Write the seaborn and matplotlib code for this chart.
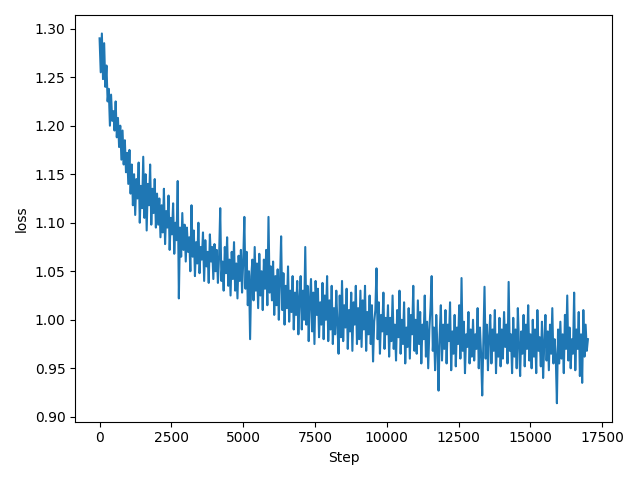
import pandas as pd
import seaborn as sns
from matplotlib import pyplot as plt

steps = list(range(0, 17001, 40))

loss_0k = [1.290, 1.255, 1.295, 1.248, 1.285, 1.240, 1.262, 1.225, 1.238, 1.200,
           1.232, 1.205, 1.215, 1.195, 1.225, 1.188, 1.208, 1.178, 1.200, 1.165,
           1.195, 1.160, 1.185, 1.152, 1.172]
loss_1k = [1.140, 1.175, 1.130, 1.160, 1.118, 1.150, 1.108, 1.145, 1.125, 1.162,
           1.100, 1.138, 1.115, 1.168, 1.105, 1.150, 1.092, 1.140, 1.118, 1.160,
           1.098, 1.135, 1.110, 1.145, 1.095]
loss_2k = [1.130, 1.098, 1.125, 1.085, 1.118, 1.090, 1.135, 1.078, 1.112, 1.095,
           1.128, 1.072, 1.105, 1.088, 1.120, 1.068, 1.100, 1.082, 1.143, 1.022,
           1.095, 1.065, 1.110, 1.072, 1.098]
loss_3k = [1.060, 1.095, 1.070, 1.085, 1.050, 1.118, 1.065, 1.092, 1.045, 1.080,
           1.058, 1.100, 1.048, 1.075, 1.062, 1.090, 1.040, 1.082, 1.055, 1.070,
           1.038, 1.088, 1.060, 1.075, 1.042]
loss_4k = [1.078, 1.050, 1.072, 1.038, 1.065, 1.115, 1.040, 1.060, 1.030, 1.075,
           1.048, 1.085, 1.035, 1.062, 1.025, 1.070, 1.042, 1.080, 1.030, 1.058,
           1.022, 1.066, 1.040, 1.072, 1.028]
loss_5k = [1.060, 1.106, 1.032, 1.070, 1.015, 1.050, 0.980, 1.045, 1.062, 1.020,
           1.075, 1.030, 1.058, 1.012, 1.068, 1.025, 1.050, 1.010, 1.062, 1.032,
           1.072, 1.015, 1.106, 1.028, 1.055]
loss_6k = [1.020, 1.060, 1.005, 1.045, 1.015, 1.052, 1.000, 1.040, 1.086, 1.010,
           1.048, 0.995, 1.035, 1.012, 1.055, 0.998, 1.030, 1.008, 1.045, 0.990,
           1.028, 1.005, 1.040, 0.985, 1.022]
loss_7k = [1.045, 0.990, 1.030, 1.000, 1.075, 0.995, 1.035, 0.978, 1.020, 1.042,
           0.988, 1.028, 0.975, 1.040, 1.005, 1.032, 0.982, 1.018, 0.995, 1.038,
           0.980, 1.025, 1.000, 1.045, 0.978]
loss_8k = [1.020, 0.990, 1.035, 0.975, 1.012, 0.985, 1.030, 0.995, 0.965, 1.025,
           0.982, 1.040, 0.978, 1.015, 0.992, 1.032, 0.970, 1.010, 0.988, 1.028,
           0.968, 1.018, 0.995, 1.035, 0.975]
loss_9k = [1.012, 0.980, 1.030, 0.972, 1.020, 0.990, 1.035, 0.968, 1.008, 0.985,
           1.025, 0.975, 1.015, 0.957, 0.998, 1.010, 1.053, 0.980, 1.018, 0.965,
           1.005, 0.988, 1.028, 0.970, 1.002]
loss_10k = [0.985, 1.015, 0.962, 1.002, 0.978, 1.025, 0.970, 0.995, 0.958, 1.010,
            0.982, 1.030, 0.965, 1.000, 0.975, 1.018, 0.955, 0.992, 0.972, 1.012,
            0.960, 1.005, 0.985, 1.035, 0.968]
loss_11k = [1.000, 0.965, 1.020, 0.975, 1.008, 0.955, 0.995, 0.980, 1.025, 0.962,
            0.998, 0.950, 0.990, 1.012, 1.045, 0.968, 0.992, 0.948, 1.005, 0.972,
            0.927, 0.985, 1.015, 0.958, 0.995]
loss_12k = [0.970, 1.010, 0.955, 0.995, 0.978, 1.018, 0.948, 0.988, 0.965, 1.005,
            0.952, 0.992, 0.975, 1.015, 0.960, 1.043, 0.968, 0.998, 0.945, 0.985,
            0.972, 1.008, 0.955, 0.990, 0.962]
loss_13k = [1.000, 0.958, 0.985, 0.970, 1.012, 0.950, 0.992, 0.965, 0.922, 0.980,
            1.034, 0.960, 0.995, 0.948, 0.982, 1.005, 0.955, 0.990, 0.968, 1.010,
            0.945, 0.985, 0.962, 1.002, 0.952]
loss_14k = [0.990, 0.960, 1.008, 0.972, 0.995, 0.955, 1.039, 0.968, 0.985, 0.945,
            1.002, 0.962, 0.990, 0.950, 1.012, 0.975, 0.942, 0.988, 0.965, 1.005,
            0.952, 0.995, 0.970, 1.015, 0.958]
loss_15k = [0.985, 0.950, 1.000, 0.962, 0.990, 0.945, 1.010, 0.968, 0.982, 0.952,
            0.998, 0.940, 0.975, 1.005, 0.958, 0.988, 0.948, 0.995, 0.965, 1.012,
            0.955, 0.980, 0.962, 0.914, 0.990]
loss_16k = [0.955, 0.998, 0.960, 0.985, 0.945, 1.005, 0.970, 1.025, 0.958, 0.992,
            0.950, 0.980, 0.965, 1.028, 0.948, 0.990, 0.970, 1.008, 0.942, 0.985,
            0.935, 1.010, 0.962, 0.995, 0.968, 0.980]

loss = (loss_0k + loss_1k + loss_2k + loss_3k + loss_4k + loss_5k + loss_6k
        + loss_7k + loss_8k + loss_9k + loss_10k + loss_11k + loss_12k
        + loss_13k + loss_14k + loss_15k + loss_16k)

df = pd.DataFrame({"Step": steps, "loss": loss})

fig, ax = plt.subplots(figsize=(6.4, 4.8), dpi=100)
sns.lineplot(data=df, x="Step", y="loss", color="#1f77b4", linewidth=1.5,
             errorbar=None, ax=ax)
ax.set_xlabel("Step")
ax.set_ylabel("loss")
fig.tight_layout()
fig.savefig("out.png")
